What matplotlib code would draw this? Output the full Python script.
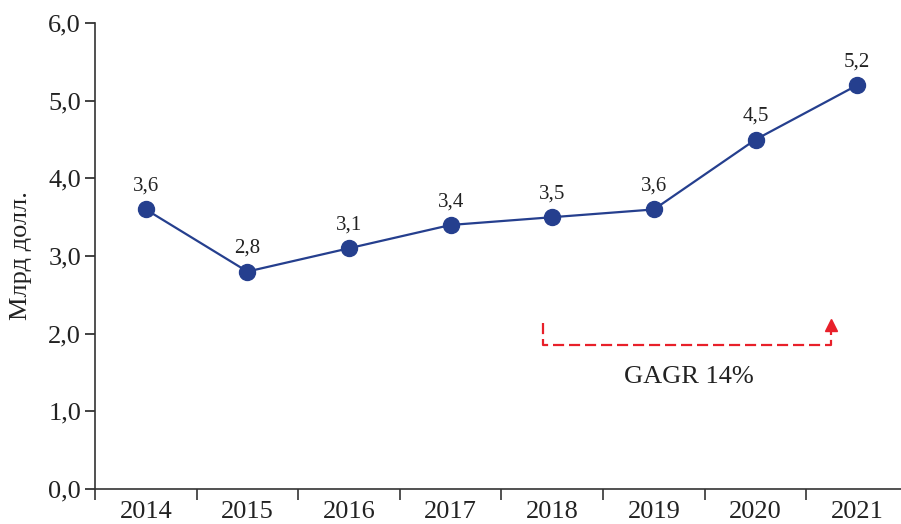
import matplotlib.pyplot as plt
import numpy as np

plt.rcParams['font.family'] = ['Liberation Serif', 'DejaVu Serif']

years = ['2014', '2015', '2016', '2017', '2018', '2019', '2020', '2021']
values = [3.6, 2.8, 3.1, 3.4, 3.5, 3.6, 4.5, 5.2]
y_ticks = [0, 1, 2, 3, 4, 5, 6]
cagr_text = 'GAGR 14%'

blue = '#253f8e'
red = '#e8202a'

fig = plt.figure(figsize=(9.01, 5.24), dpi=100)
ax = fig.add_axes([0.1054, 0.0668, 0.9024, 0.8892])

x = np.arange(len(years))
ax.plot(x, values, color=blue, lw=1.6, marker='o', ms=11.5,
        markerfacecolor=blue, markeredgecolor=blue, zorder=3)

for xi, v in zip(x, values):
    ax.annotate(f'{v:.1f}'.replace('.', ','), (xi, v), xytext=(0, 10),
                textcoords='offset points', ha='center', va='bottom',
                fontsize=15, color='#222222')

# CAGR bracket from 2018 to 2021
bx0, bx1 = 3.91, 6.74
by_low, by_top = 1.85, 2.14
ax.plot([bx0, bx0, bx1, bx1], [by_top, by_low, by_low, by_top - 0.05],
        color=red, lw=1.6, dashes=(5, 2.2))
ax.plot([bx1], [by_top - 0.03], marker='^', ms=8, color=red, lw=0)
ax.text((bx0 + bx1) / 2 + 0.02, 1.44, cagr_text, ha='center', va='center',
        fontsize=19, color='#222222')

ax.set_xlim(-0.5, len(years) - 0.5)
ax.set_ylim(0, 6)
ax.set_yticks(y_ticks)
ax.set_yticklabels([f'{t:.1f}'.replace('.', ',') for t in y_ticks])
ax.set_xticks(x)
ax.set_xticklabels(years)
ax.set_xticks(np.arange(-0.5, len(years), 1), minor=True)
ax.tick_params(axis='x', which='major', length=0, labelsize=19, pad=9,
               colors='#222222')
ax.tick_params(axis='x', which='minor', length=8, width=1.2, color='#333333')
ax.tick_params(axis='y', length=7, width=1.2, labelsize=19, pad=3,
               colors='#222222')
for s in ['top', 'right']:
    ax.spines[s].set_visible(False)
for s in ['left', 'bottom']:
    ax.spines[s].set_linewidth(1.2)
    ax.spines[s].set_color('#333333')

ax.set_ylabel('Млрд долл.', fontsize=19, color='#222222', labelpad=12)

fig.savefig('out.png', dpi=100)
